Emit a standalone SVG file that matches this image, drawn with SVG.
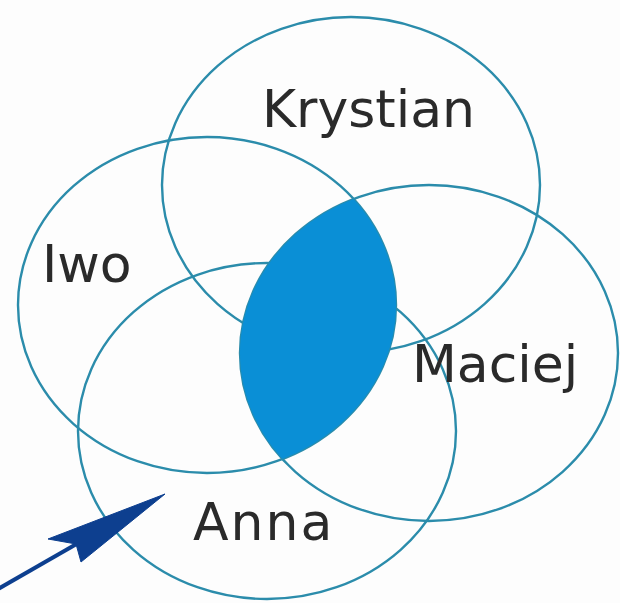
<svg xmlns="http://www.w3.org/2000/svg" width="620" height="603" viewBox="0 0 620 603">
  <style>
    .set { fill: none; stroke: #2b8cab; stroke-width: 2.4; }
    .lbl { font-family: "DejaVu Sans", "Liberation Sans", sans-serif; font-size: 52px; fill: #2a2a2a; }
    .lens { fill: #0a8fd6; }
    .arrow { fill: #0d3f8f; stroke: #0d3f8f; }
  </style>
  <defs>
    <clipPath id="clipIwo">
      <ellipse cx="207" cy="305" rx="189" ry="168"/>
    </clipPath>
  </defs>
  <rect width="620" height="603" fill="#fdfdfd"/>
  <g id="krystian">
    <ellipse class="set" cx="351" cy="185" rx="189" ry="168"/>
    <text class="lbl" x="262" y="127">Krystian</text>
  </g>
  <g id="iwo">
    <ellipse class="set" cx="207" cy="305" rx="189" ry="168"/>
    <text class="lbl" x="42" y="282">Iwo</text>
  </g>
  <g id="anna">
    <ellipse class="set" cx="267" cy="431" rx="189" ry="168"/>
    <text class="lbl" x="193" y="540" letter-spacing="2">Anna</text>
  </g>
  <g id="maciej">
    <ellipse class="set" cx="429" cy="353" rx="189" ry="168"/>
    <text class="lbl" x="412" y="382">Maciej</text>
  </g>
  <g id="intersection">
    <ellipse class="lens" cx="429" cy="353" rx="189" ry="168" clip-path="url(#clipIwo)"/>
  </g>
  <g id="connectors">
    <line x1="-2" y1="589" x2="80" y2="542" stroke="#0d3f8f" stroke-width="4"/>
    <polygon class="arrow" stroke-width="1" stroke-linejoin="miter" points="165,494 48,539 76,544 81,562"/>
  </g>
</svg>
